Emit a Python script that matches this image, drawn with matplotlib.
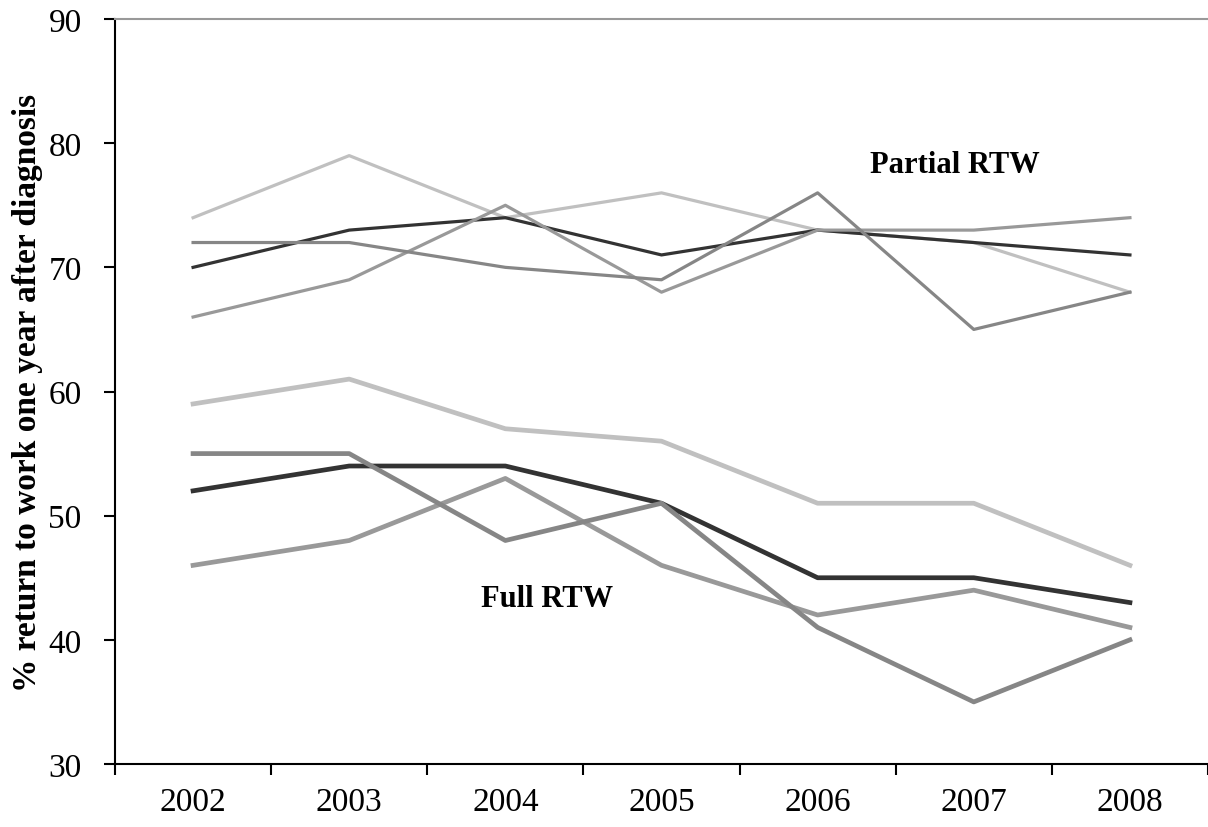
import numpy as np
import matplotlib
matplotlib.use("Agg")
import matplotlib.pyplot as plt

plt.rcParams['font.family'] = ['Liberation Serif', 'DejaVu Serif']

years = ["2002", "2003", "2004", "2005", "2006", "2007", "2008"]

# partial RTW (thin lines)
partial_light = [74, 79, 74, 76, 73, 72, 68]
partial_dark = [70, 73, 74, 71, 73, 72, 71]
partial_mid = [72, 72, 70, 69, 76, 65, 68]
partial_gray = [66, 69, 75, 68, 73, 73, 74]

# full RTW (thick lines)
full_light = [59, 61, 57, 56, 51, 51, 46]
full_dark = [52, 54, 54, 51, 45, 45, 43]
full_mid = [55, 55, 48, 51, 41, 35, 40]
full_gray = [46, 48, 53, 46, 42, 44, 41]

x = np.arange(len(years))

fig = plt.figure(figsize=(12.08, 8.28), dpi=100)
ax = fig.add_axes([0.0952, 0.0761, 0.9048, 0.8997])

# partial
ax.plot(x, partial_light, color="#c0c0c0", lw=2.3)
ax.plot(x, partial_dark, color="#333333", lw=2.3)
ax.plot(x, partial_gray, color="#999999", lw=2.3)
ax.plot(x, partial_mid, color="#868686", lw=2.3)

# full
ax.plot(x, full_light, color="#c0c0c0", lw=3.4)
ax.plot(x, full_dark, color="#333333", lw=3.4)
ax.plot(x, full_gray, color="#999999", lw=3.4)
ax.plot(x, full_mid, color="#868686", lw=3.4)

ax.text(4.88, 78.3, "Partial RTW", fontsize=22, fontweight="bold",
        ha="center", va="center")
ax.text(2.27, 43.3, "Full RTW", fontsize=22, fontweight="bold",
        ha="center", va="center")

ax.set_xlim(-0.5, 6.5)
ax.set_ylim(30, 90)
ax.set_yticks(np.arange(30, 91, 10))
ax.set_xticks(x)
ax.set_xticklabels(years)
ax.set_xticks(np.arange(-0.5, 7, 1), minor=True)
ax.tick_params(axis="x", which="major", length=0, pad=16, labelsize=24)
ax.tick_params(axis="x", which="minor", length=8, width=1.5, direction="out")
ax.tick_params(axis="y", length=8, width=1.5, direction="out", pad=16, labelsize=24)

ax.spines["right"].set_visible(False)
ax.spines["top"].set_color("#999999")
ax.spines["top"].set_linewidth(1.5)
ax.spines["left"].set_linewidth(1.5)
ax.spines["bottom"].set_linewidth(1.5)

ax.set_ylabel("% return to work one year after diagnosis", fontsize=24,
              fontweight="bold", labelpad=4)

fig.savefig("out.png", dpi=100)
